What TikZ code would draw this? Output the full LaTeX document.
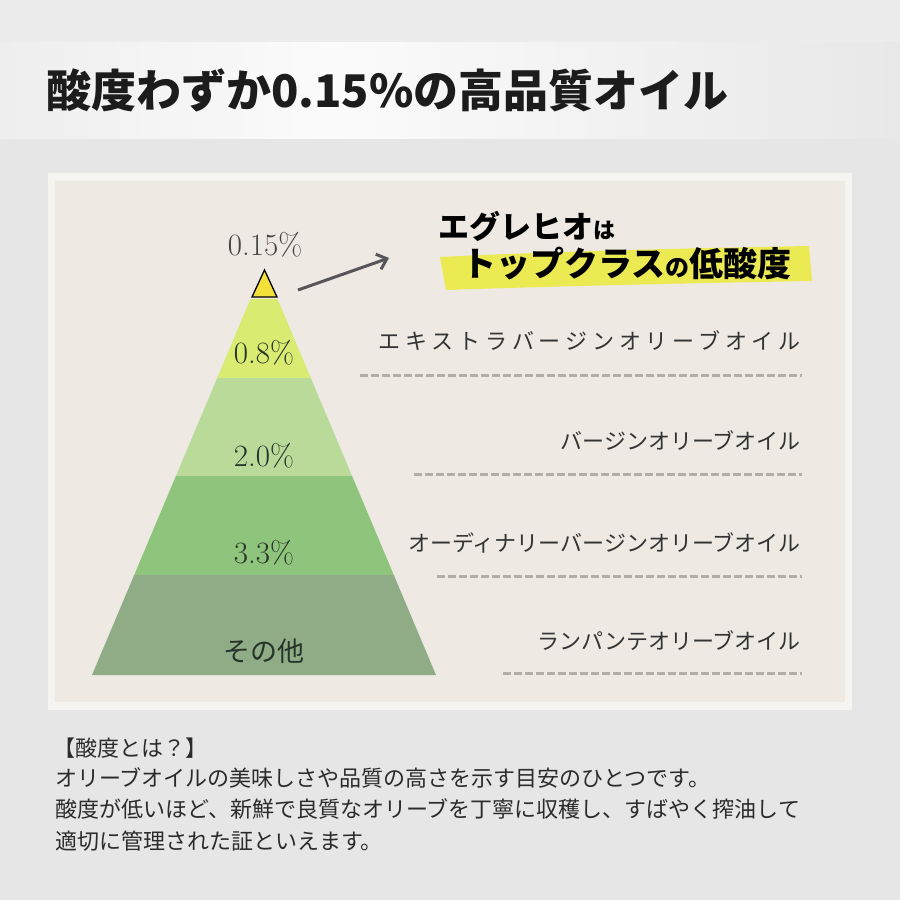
\documentclass[tikz,border=0pt]{standalone}
\usepackage{fontspec}
\newfontfamily\jp{Noto Sans CJK JP}
\usetikzlibrary{arrows.meta}
\definecolor{bgmain}{HTML}{E6E6E6}
\definecolor{bgtop}{HTML}{ECECEC}
\definecolor{bandL}{HTML}{EEEEEE}
\definecolor{bandM}{HTML}{FBFBFB}
\definecolor{bandR}{HTML}{E8E8E8}
\definecolor{panel}{HTML}{EEE9E3}
\definecolor{panelrim}{HTML}{F6F4F1}
\definecolor{layA}{HTML}{DAEB72}
\definecolor{layB}{HTML}{BADA9A}
\definecolor{layC}{HTML}{8FC47C}
\definecolor{layD}{HTML}{8FAC86}
\definecolor{tipyel}{HTML}{F3E03A}
\definecolor{pcttext}{HTML}{26332A}
\definecolor{toptext}{HTML}{444444}
\definecolor{labtext}{HTML}{333333}
\definecolor{dashc}{HTML}{B3ADA8}
\definecolor{arrowc}{HTML}{58555A}
\definecolor{hl}{HTML}{ECEA52}
\definecolor{titletext}{HTML}{1C1C1C}
\definecolor{bodytext}{HTML}{2B2B2B}
\begin{document}
\begin{tikzpicture}[x=1pt,y=-1pt,
  pct/.style={font=\fontsize{31}{31}\selectfont, text=pcttext, inner sep=0pt},
  lab/.style={font=\jp\fontsize{22}{22}\selectfont, text=labtext, anchor=east, inner sep=0pt},
  body/.style={font=\jp\fontsize{22}{22}\selectfont, text=bodytext, anchor=west, inner sep=0pt},
  dashline/.style={draw=dashc, line width=3pt, dash pattern=on 8pt off 3pt},
  layer/.style={draw=none}]
\useasboundingbox (0,0) rectangle (900,900);
% background
\fill[bgmain] (0,0) rectangle (900,900);
\fill[bgtop] (0,0) rectangle (900,42);
\shade[left color=bandL, right color=bandM, shading angle=90] (0,42) rectangle (330,138);
\shade[left color=bandM, right color=bandR] (330,42) rectangle (900,138);
% title
\node[anchor=west, inner sep=0pt, text=titletext, font=\jp\bfseries\fontsize{45}{45}\selectfont] (title) at (46,90) {酸度わずか0.15\%の高品質オイル};
% panel
\fill[panelrim] (48,173) rectangle (852,710);
\fill[panel] (55,181) rectangle (845,702);
% pyramid layers
\fill[layA] (250.5,299) -- (277.5,299) -- (310.8,378) -- (217.2,378) -- cycle;
\fill[layB] (217.2,378) -- (310.8,378) -- (352.1,476) -- (175.9,476) -- cycle;
\fill[layC] (175.9,476) -- (352.1,476) -- (393.8,575) -- (134.2,575) -- cycle;
\fill[layD] (134.2,575) -- (393.8,575) -- (436,675) -- (92,675) -- cycle;
% small tip triangle
\draw[fill=tipyel, line width=1.3pt, line join=miter] (264.5,270) -- (277,297) -- (252,297) -- cycle;
% percentage labels
\node[pct, text=toptext] (p015) at (265,245) {0.15\%};
\node[pct] (p08) at (264,353) {0.8\%};
\node[pct] (p20) at (264,456) {2.0\%};
\node[pct] (p33) at (264,553) {3.3\%};
\node[pct, font=\jp\fontsize{27}{27}\selectfont] (pother) at (264,651) {その他};
% highlight and headline
\fill[hl] (440,257) .. controls (560,251) and (700,248) .. (809,246) -- (812,281) .. controls (700,283) and (560,286) .. (446,290) -- cycle;
\node[anchor=west, inner sep=0pt, text=black, font=\jp\bfseries] (head1) at (438,226) {\fontsize{31}{31}\selectfont エグレヒオ\fontsize{22}{22}\selectfont は};
\node[anchor=west, inner sep=0pt, text=black, font=\jp\bfseries] (head2) at (462,264) {\fontsize{34}{34}\selectfont トップクラス\fontsize{24}{24}\selectfont の\fontsize{34}{34}\selectfont 低酸度};
% arrow
\coordinate (arrS) at (298,290);
\coordinate (arrE) at (389,258);
\draw[arrowc, line width=3pt, -{Straight Barb[length=9pt,width=16pt,line width=3pt]}] (arrS) -- (arrE);
% right labels
\node[lab] (l1) at (801,341) {\addfontfeature{LetterSpace=22}エキストラバージンオリーブオイル};
\node[lab] (l2) at (801,441) {バージンオリーブオイル};
\node[lab] (l3) at (801,543) {オーディナリーバージンオリーブオイル};
\node[lab] (l4) at (801,641) {ランパンテオリーブオイル};
\coordinate (d1a) at (360,375); \coordinate (d1b) at (802,375);
\coordinate (d2a) at (414,474); \coordinate (d2b) at (802,474);
\coordinate (d3a) at (437,576); \coordinate (d3b) at (802,576);
\coordinate (d4a) at (503,673); \coordinate (d4b) at (802,673);
\draw[dashline] (d1a) -- (d1b);
\draw[dashline] (d2a) -- (d2b);
\draw[dashline] (d3a) -- (d3b);
\draw[dashline] (d4a) -- (d4b);
% body text
\node[body] (b1) at (53,748) {【酸度とは？】};
\node[body] (b2) at (55,778) {オリーブオイルの美味しさや品質の高さを示す目安のひとつです。};
\node[body] (b3) at (55,809) {酸度が低いほど、新鮮で良質なオリーブを丁寧に収穫し、すばやく搾油して};
\node[body] (b4) at (55,841) {適切に管理された証といえます。};
\end{tikzpicture}
\end{document}
